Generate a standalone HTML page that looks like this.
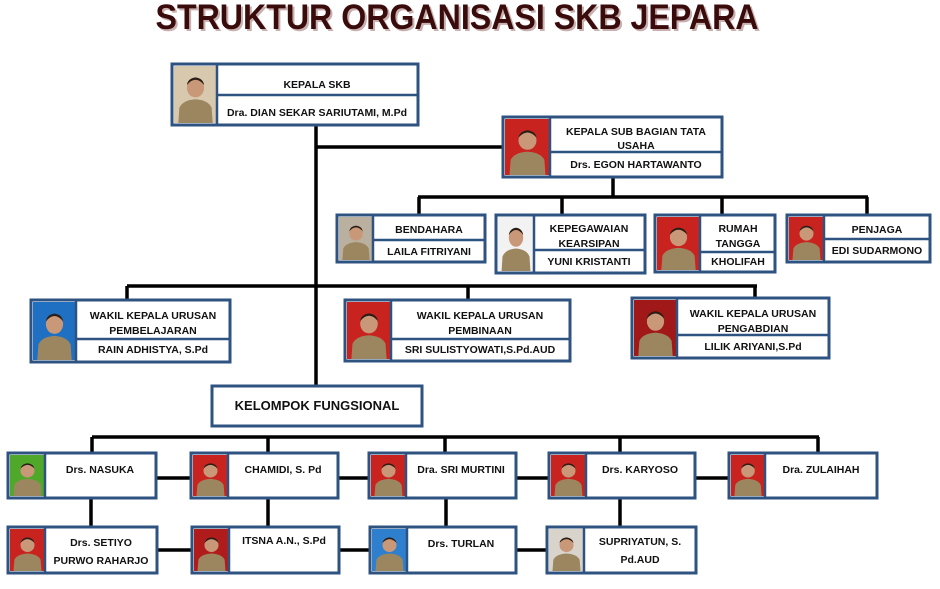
<!DOCTYPE html>
<html><head><meta charset="utf-8"><style>
html,body{margin:0;padding:0;background:#fff;}
svg{display:block;}
text{font-family:"Liberation Sans",sans-serif;font-weight:bold;fill:#111;text-anchor:middle;}
.t{font-size:10.5px;}
.b{fill:#fff;stroke:#2f5381;stroke-width:3;}
.d{stroke:#2f5381;stroke-width:2.5;}
.c{stroke:#000;stroke-width:3.5;fill:none;}
</style></head><body>
<svg width="940" height="589" viewBox="0 0 940 589" xmlns="http://www.w3.org/2000/svg">
<defs>
<symbol id="p" viewBox="0 0 40 60" preserveAspectRatio="none">
<path d="M4 60 L5 44 Q8 36 20 35 Q32 36 35 44 L36 60 Z" fill="#9c8660"/>
<ellipse cx="20" cy="23" rx="8" ry="10" fill="#c99878"/>
<path d="M12 20 Q20 9 28 20 Q27 13 20 12 Q13 13 12 20Z" fill="#2a1d15"/>
</symbol>
</defs>
<rect width="940" height="589" fill="#fff"/>
<text x="459" y="31" style="font-size:35px;fill:#c9b0b0" textLength="603" lengthAdjust="spacingAndGlyphs">STRUKTUR ORGANISASI SKB JEPARA</text>
<text x="457" y="29" style="font-size:35px;fill:#3a0b0b" textLength="603" lengthAdjust="spacingAndGlyphs">STRUKTUR ORGANISASI SKB JEPARA</text>

<!-- connectors -->
<path class="c" d="M316 125V386 M316 147H503 M613 177V197 M418 197H868 M419 197V215 M562 197V215 M722 197V215 M867 197V215
M127 286H757 M127 286V300 M468 286V300 M755 286V298
M92 437H819 M92 437V453 M268 437V453 M445 437V453 M620 437V453 M818 437V453
M156 478H191 M338 478H369 M516 478H549 M695 478H729
M91 498V527 M268 498V527 M446 498V527 M620 498V527
M157 550H192 M339 550H370 M516 550H547"/>

<!-- Kepala SKB -->
<rect class="b" x="172" y="64" width="246" height="61"/>
<rect x="174" y="66" width="43" height="57" fill="#d8c9ae"/><use href="#p" x="174" y="66" width="43" height="57"/>
<line class="d" x1="217" y1="64" x2="217" y2="125"/><line class="d" x1="217" y1="95" x2="418" y2="95"/>
<text class="t" x="317" y="88">KEPALA SKB</text>
<text class="t" x="317" y="116">Dra. DIAN SEKAR SARIUTAMI, M.Pd</text>

<!-- Sub bagian -->
<rect class="b" x="503" y="117" width="219" height="60"/>
<rect x="505" y="119" width="45" height="56" fill="#c8231f"/><use href="#p" x="505" y="119" width="45" height="56"/>
<line class="d" x1="550" y1="117" x2="550" y2="177"/><line class="d" x1="550" y1="152" x2="722" y2="152"/>
<text class="t" x="636" y="135">KEPALA SUB BAGIAN TATA</text>
<text class="t" x="636" y="149">USAHA</text>
<text class="t" x="636" y="168">Drs. EGON HARTAWANTO</text>

<!-- Bendahara -->
<rect class="b" x="337" y="215" width="148" height="47"/>
<rect x="339" y="217" width="34" height="43" fill="#b9b0a0"/><use href="#p" x="339" y="217" width="34" height="43"/>
<line class="d" x1="373" y1="215" x2="373" y2="262"/><line class="d" x1="373" y1="240" x2="485" y2="240"/>
<text class="t" x="429" y="233">BENDAHARA</text>
<text class="t" x="429" y="255">LAILA FITRIYANI</text>

<!-- Kepegawaian -->
<rect class="b" x="496" y="215" width="149" height="58"/>
<rect x="498" y="217" width="36" height="54" fill="#f2f2f2"/><use href="#p" x="498" y="217" width="36" height="54"/>
<line class="d" x1="534" y1="215" x2="534" y2="273"/><line class="d" x1="534" y1="250" x2="645" y2="250"/>
<text class="t" x="589" y="232">KEPEGAWAIAN</text>
<text class="t" x="589" y="247">KEARSIPAN</text>
<text class="t" x="589" y="265">YUNI KRISTANTI</text>

<!-- Rumah Tangga -->
<rect class="b" x="655" y="215" width="120" height="57"/>
<rect x="657" y="217" width="43" height="53" fill="#c8231f"/><use href="#p" x="657" y="217" width="43" height="53"/>
<line class="d" x1="700" y1="215" x2="700" y2="272"/><line class="d" x1="700" y1="252" x2="775" y2="252"/>
<text class="t" x="738" y="232">RUMAH</text>
<text class="t" x="738" y="247">TANGGA</text>
<text class="t" x="738" y="265">KHOLIFAH</text>

<!-- Penjaga -->
<rect class="b" x="787" y="215" width="143" height="47"/>
<rect x="789" y="217" width="35" height="43" fill="#c8231f"/><use href="#p" x="789" y="217" width="35" height="43"/>
<line class="d" x1="824" y1="215" x2="824" y2="262"/><line class="d" x1="824" y1="239" x2="930" y2="239"/>
<text class="t" x="877" y="233">PENJAGA</text>
<text class="t" x="877" y="254">EDI SUDARMONO</text>

<!-- Wakil 1 -->
<rect class="b" x="31" y="300" width="199" height="62"/>
<rect x="33" y="302" width="43" height="58" fill="#1f6fc2"/><use href="#p" x="33" y="302" width="43" height="58"/>
<line class="d" x1="76" y1="300" x2="76" y2="362"/><line class="d" x1="76" y1="339" x2="230" y2="339"/>
<text class="t" x="153" y="319">WAKIL KEPALA URUSAN</text>
<text class="t" x="153" y="334">PEMBELAJARAN</text>
<text class="t" x="153" y="353">RAIN ADHISTYA, S.Pd</text>

<!-- Wakil 2 -->
<rect class="b" x="345" y="300" width="225" height="61"/>
<rect x="347" y="302" width="44" height="57" fill="#c8231f"/><use href="#p" x="347" y="302" width="44" height="57"/>
<line class="d" x1="391" y1="300" x2="391" y2="361"/><line class="d" x1="391" y1="339" x2="570" y2="339"/>
<text class="t" x="480" y="319">WAKIL KEPALA URUSAN</text>
<text class="t" x="480" y="334">PEMBINAAN</text>
<text class="t" x="480" y="353">SRI SULISTYOWATI,S.Pd.AUD</text>

<!-- Wakil 3 -->
<rect class="b" x="632" y="298" width="197" height="60"/>
<rect x="634" y="300" width="43" height="56" fill="#a01818"/><use href="#p" x="634" y="300" width="43" height="56"/>
<line class="d" x1="677" y1="298" x2="677" y2="358"/><line class="d" x1="677" y1="335" x2="829" y2="335"/>
<text class="t" x="753" y="317">WAKIL KEPALA URUSAN</text>
<text class="t" x="753" y="332">PENGABDIAN</text>
<text class="t" x="753" y="350">LILIK ARIYANI,S.Pd</text>

<!-- Kelompok -->
<rect class="b" x="212" y="386" width="210" height="40"/>
<text x="317" y="410" style="font-size:13px">KELOMPOK FUNGSIONAL</text>

<!-- Row 1 -->
<rect class="b" x="8" y="453" width="148" height="45"/>
<rect x="10" y="455" width="35" height="41" fill="#4fa82a"/><use href="#p" x="10" y="455" width="35" height="41"/>
<line class="d" x1="45" y1="453" x2="45" y2="498"/>
<text class="t" x="100" y="473">Drs. NASUKA</text>

<rect class="b" x="191" y="453" width="147" height="45"/>
<rect x="193" y="455" width="35" height="41" fill="#c8231f"/><use href="#p" x="193" y="455" width="35" height="41"/>
<line class="d" x1="228" y1="453" x2="228" y2="498"/>
<text class="t" x="283" y="473">CHAMIDI, S. Pd</text>

<rect class="b" x="369" y="453" width="147" height="45"/>
<rect x="371" y="455" width="35" height="41" fill="#c8231f"/><use href="#p" x="371" y="455" width="35" height="41"/>
<line class="d" x1="406" y1="453" x2="406" y2="498"/>
<text class="t" x="461" y="473">Dra. SRI MURTINI</text>

<rect class="b" x="549" y="453" width="146" height="45"/>
<rect x="551" y="455" width="35" height="41" fill="#c8231f"/><use href="#p" x="551" y="455" width="35" height="41"/>
<line class="d" x1="586" y1="453" x2="586" y2="498"/>
<text class="t" x="640" y="473">Drs. KARYOSO</text>

<rect class="b" x="729" y="453" width="148" height="45"/>
<rect x="731" y="455" width="34" height="41" fill="#c8231f"/><use href="#p" x="731" y="455" width="34" height="41"/>
<line class="d" x1="765" y1="453" x2="765" y2="498"/>
<text class="t" x="821" y="473">Dra. ZULAIHAH</text>

<!-- Row 2 -->
<rect class="b" x="8" y="527" width="149" height="46"/>
<rect x="10" y="529" width="35" height="42" fill="#c8231f"/><use href="#p" x="10" y="529" width="35" height="42"/>
<line class="d" x1="45" y1="527" x2="45" y2="573"/>
<text class="t" x="101" y="546">Drs. SETIYO</text>
<text class="t" x="101" y="564">PURWO RAHARJO</text>

<rect class="b" x="192" y="527" width="147" height="46"/>
<rect x="194" y="529" width="35" height="42" fill="#b01c1c"/><use href="#p" x="194" y="529" width="35" height="42"/>
<line class="d" x1="229" y1="527" x2="229" y2="573"/>
<text class="t" x="284" y="544">ITSNA A.N., S.Pd</text>

<rect class="b" x="370" y="527" width="146" height="46"/>
<rect x="372" y="529" width="35" height="42" fill="#2f7fcf"/><use href="#p" x="372" y="529" width="35" height="42"/>
<line class="d" x1="407" y1="527" x2="407" y2="573"/>
<text class="t" x="461" y="547">Drs. TURLAN</text>

<rect class="b" x="547" y="527" width="149" height="46"/>
<rect x="549" y="529" width="35" height="42" fill="#d8d4cc"/><use href="#p" x="549" y="529" width="35" height="42"/>
<line class="d" x1="584" y1="527" x2="584" y2="573"/>
<text class="t" x="640" y="545">SUPRIYATUN, S.</text>
<text class="t" x="640" y="563">Pd.AUD</text>
</svg>
</body></html>
